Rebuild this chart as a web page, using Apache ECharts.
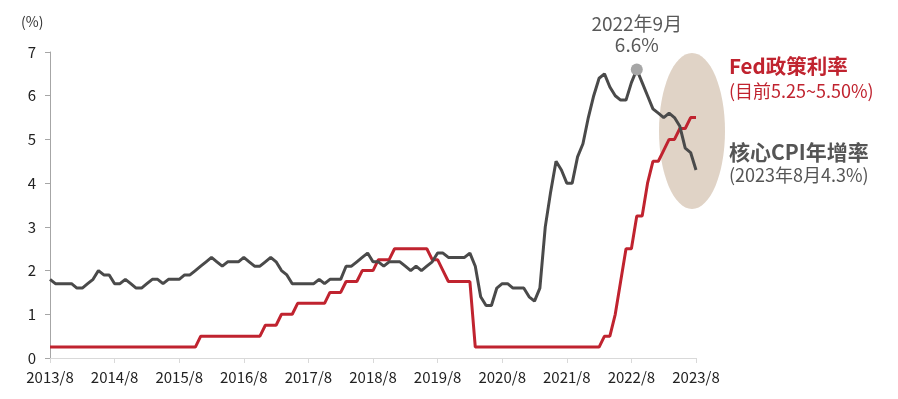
<!doctype html>
<html>

<head>
    <meta charset="utf-8">
    <title>Fed政策利率與核心CPI</title>
    <script type="text/javascript" src="https://cdn.jsdelivr.net/npm/echarts@6/dist/echarts.min.js"></script>
</head>

<body style="margin:0;padding:0;background:#fff">
    <div id="tb" style="width:898px;height:399px"></div>
    <script>
        // 月份 2013/8 ~ 2023/8
        var months = [];
        for (var y = 2013; y <= 2023; y++) {
            for (var m = 1; m <= 12; m++) {
                if ((y === 2013 && m < 8) || (y === 2023 && m > 8)) continue;
                months.push(y + '/' + m);
            }
        }
        var yTicks = [0, 1, 2, 3, 4, 5, 6, 7];
        // 核心CPI年增率 (%)
        var cpi = [
            1.8, 1.7, 1.7, 1.7, 1.7,
            1.6, 1.6, 1.7, 1.8, 2.0, 1.9, 1.9, 1.7, 1.7, 1.8, 1.7, 1.6,
            1.6, 1.7, 1.8, 1.8, 1.7, 1.8, 1.8, 1.8, 1.9, 1.9, 2.0, 2.1,
            2.2, 2.3, 2.2, 2.1, 2.2, 2.2, 2.2, 2.3, 2.2, 2.1, 2.1, 2.2,
            2.3, 2.2, 2.0, 1.9, 1.7, 1.7, 1.7, 1.7, 1.7, 1.8, 1.7, 1.8,
            1.8, 1.8, 2.1, 2.1, 2.2, 2.3, 2.4, 2.2, 2.2, 2.1, 2.2, 2.2,
            2.2, 2.1, 2.0, 2.1, 2.0, 2.1, 2.2, 2.4, 2.4, 2.3, 2.3, 2.3,
            2.3, 2.4, 2.1, 1.4, 1.2, 1.2, 1.6, 1.7, 1.7, 1.6, 1.6, 1.6,
            1.4, 1.3, 1.6, 3.0, 3.8, 4.5, 4.3, 4.0, 4.0, 4.6, 4.9, 5.5,
            6.0, 6.4, 6.5, 6.2, 6.0, 5.9, 5.9, 6.3, 6.6, 6.3, 6.0, 5.7,
            5.6, 5.5, 5.6, 5.5, 5.3, 4.8, 4.7, 4.3
        ];
        // Fed政策利率 (上限, %)
        var fed = [
            0.25, 0.25, 0.25, 0.25, 0.25,
            0.25, 0.25, 0.25, 0.25, 0.25, 0.25, 0.25, 0.25, 0.25, 0.25, 0.25, 0.25,
            0.25, 0.25, 0.25, 0.25, 0.25, 0.25, 0.25, 0.25, 0.25, 0.25, 0.25, 0.5,
            0.5, 0.5, 0.5, 0.5, 0.5, 0.5, 0.5, 0.5, 0.5, 0.5, 0.5, 0.75,
            0.75, 0.75, 1.0, 1.0, 1.0, 1.25, 1.25, 1.25, 1.25, 1.25, 1.25, 1.5,
            1.5, 1.5, 1.75, 1.75, 1.75, 2.0, 2.0, 2.0, 2.25, 2.25, 2.25, 2.5,
            2.5, 2.5, 2.5, 2.5, 2.5, 2.5, 2.25, 2.25, 2.0, 1.75, 1.75, 1.75,
            1.75, 1.75, 0.25, 0.25, 0.25, 0.25, 0.25, 0.25, 0.25, 0.25, 0.25, 0.25,
            0.25, 0.25, 0.25, 0.25, 0.25, 0.25, 0.25, 0.25, 0.25, 0.25, 0.25, 0.25,
            0.25, 0.25, 0.5, 0.5, 1.0, 1.75, 2.5, 2.5, 3.25, 3.25, 4.0, 4.5,
            4.5, 4.75, 5.0, 5.0, 5.25, 5.25, 5.5, 5.5
        ];
        var peakIdx = months.indexOf('2022/9');

        var fontCJK = '"Noto Sans CJK TC", "Noto Sans", sans-serif';
        var red = '#c0232f';
        var gray = '#4a4a4a';

        var chart = echarts.init(document.getElementById('tb'));
        chart.setOption({
            animation: false,
            textStyle: { fontFamily: fontCJK },
            grid: { left: 50, right: 202, top: 52, bottom: 41 },
            xAxis: {
                type: 'category',
                data: months,
                boundaryGap: false,
                axisLine: { lineStyle: { color: '#d9d9d9' } },
                axisTick: { interval: 11, length: 5, lineStyle: { color: '#d9d9d9' } },
                axisLabel: {
                    interval: 11,
                    margin: 12,
                    fontSize: 15,
                    color: '#222'
                },
                splitLine: { show: false }
            },
            yAxis: {
                type: 'value',
                min: yTicks[0],
                max: yTicks[yTicks.length - 1],
                interval: 1,
                axisLine: { show: true, lineStyle: { color: '#a6a6a6' } },
                axisTick: { show: true, length: 5, lineStyle: { color: '#a6a6a6' } },
                axisLabel: { margin: 14, fontSize: 15, color: '#222' },
                splitLine: { show: false }
            },
            graphic: [
                { type: 'text', left: 21, top: 15, style: { text: '(%)', fill: '#333', font: '14px ' + fontCJK } },
                {
                    type: 'ellipse', z: 1,
                    shape: { cx: 692, cy: 131, rx: 33, ry: 78 },
                    style: { fill: '#e0d3c6' }
                },
                {
                    type: 'text', left: 729, top: 56,
                    style: { text: 'Fed政策利率', fill: red, font: 'bold 20.5px ' + fontCJK }
                },
                {
                    type: 'text', left: 729, top: 82,
                    style: { text: '(目前5.25~5.50%)', fill: red, font: '18px ' + fontCJK }
                },
                {
                    type: 'text', left: 729, top: 142,
                    style: { text: '核心CPI年增率', fill: '#555', font: 'bold 21px ' + fontCJK }
                },
                {
                    type: 'text', left: 729, top: 166,
                    style: { text: '(2023年8月4.3%)', fill: '#555', font: '18px ' + fontCJK }
                }
            ],
            series: [{
                name: 'Fed政策利率',
                type: 'line',
                data: fed,
                symbol: 'none',
                z: 3,
                lineStyle: { color: red, width: 3 }
            }, {
                name: '核心CPI年增率',
                type: 'line',
                data: cpi,
                symbol: 'none',
                z: 4,
                lineStyle: { color: gray, width: 3 },
                markPoint: {
                    symbol: 'circle',
                    symbolSize: 12,
                    itemStyle: { color: '#a6a6a6' },
                    label: {
                        show: true,
                        position: 'top',
                        distance: 8,
                        fontSize: 19,
                        lineHeight: 21,
                        color: '#595959',
                        formatter: function () {
                            return '2022年9月\n' + cpi[peakIdx] + '%';
                        }
                    },
                    data: [{ coord: [peakIdx, cpi[peakIdx]] }]
                }
            }]
        });
    </script>
</body>

</html>
